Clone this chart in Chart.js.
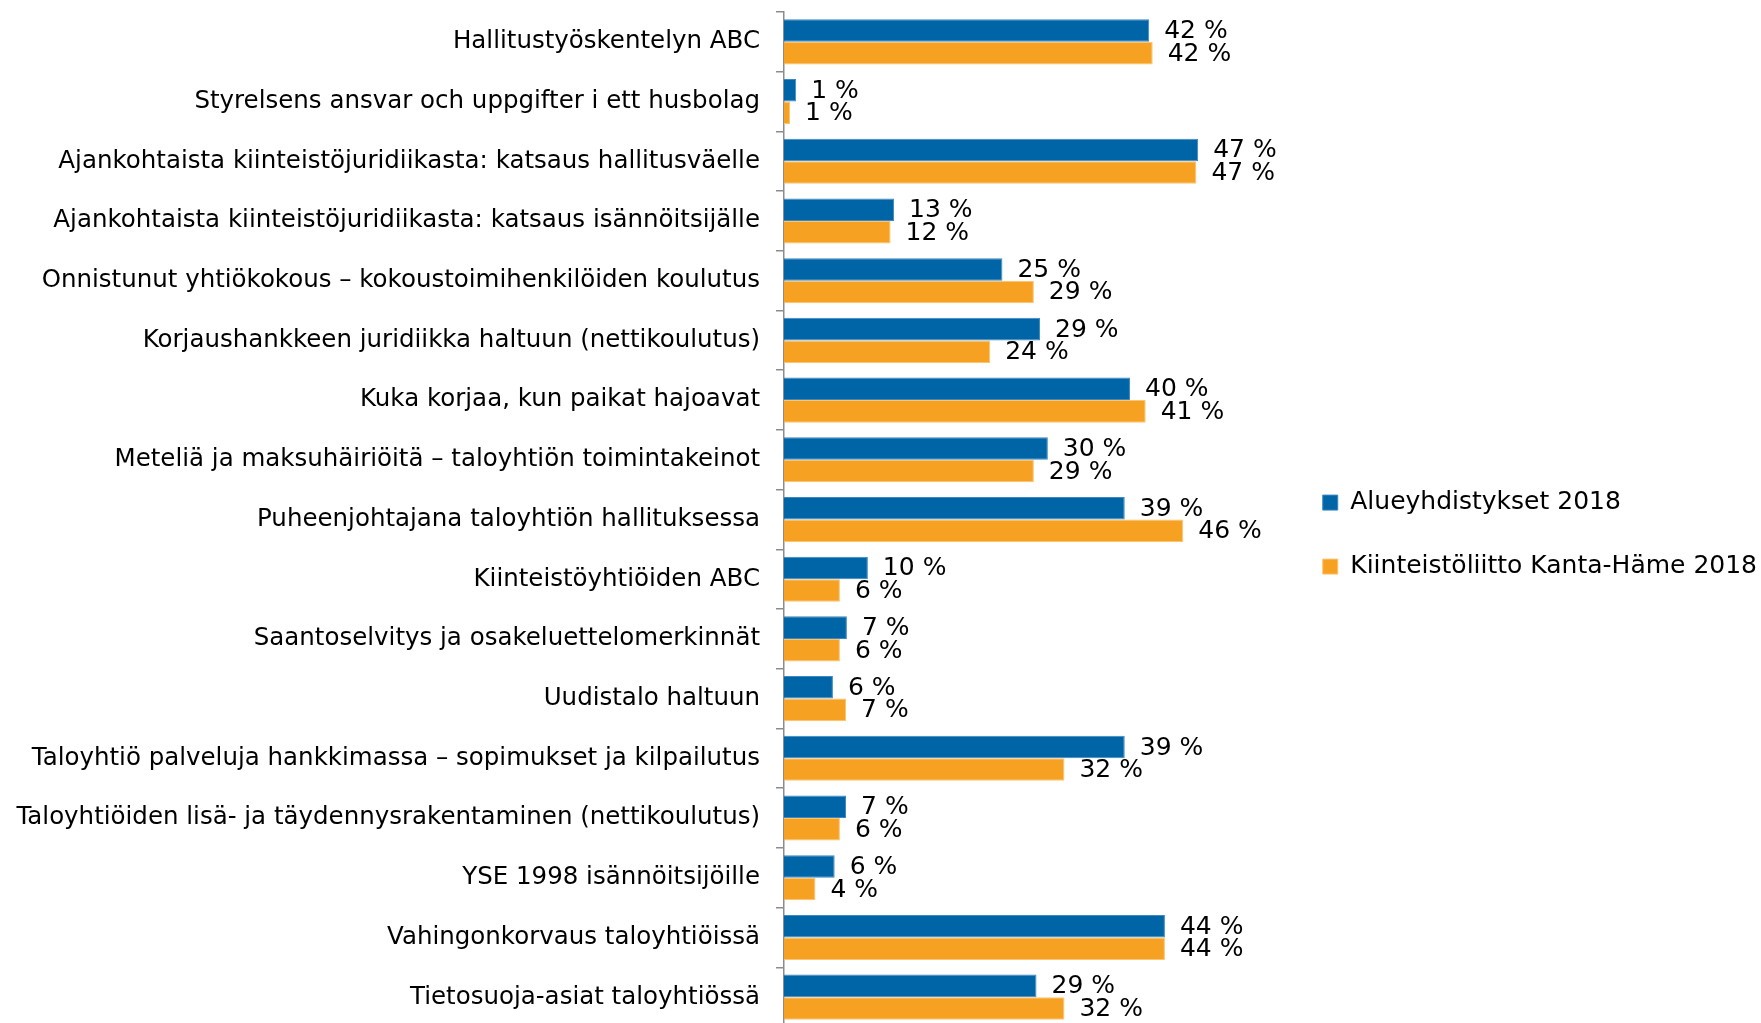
<!DOCTYPE html>
<html>
<head>
<meta charset="utf-8">
<script src="https://cdn.jsdelivr.net/npm/chart.js@4"></script>
<style>
  html, body { margin: 0; padding: 0; background: #fff; overflow: hidden; }
  /* a few px taller than the window: the original plot runs past the bottom edge */
  #wrap { width: 1761px; height: 1027px; position: relative; }
</style>
</head>
<body>
<div id="wrap"><canvas id="chart"></canvas></div>
<script>
// ---- data ----
const categories = [
  'Hallitustyöskentelyn ABC',
  'Styrelsens ansvar och uppgifter i ett husbolag',
  'Ajankohtaista kiinteistöjuridiikasta: katsaus hallitusväelle',
  'Ajankohtaista kiinteistöjuridiikasta: katsaus isännöitsijälle',
  'Onnistunut yhtiökokous – kokoustoimihenkilöiden koulutus',
  'Korjaushankkeen juridiikka haltuun (nettikoulutus)',
  'Kuka korjaa, kun paikat hajoavat',
  'Meteliä ja maksuhäiriöitä – taloyhtiön toimintakeinot',
  'Puheenjohtajana taloyhtiön hallituksessa',
  'Kiinteistöyhtiöiden ABC',
  'Saantoselvitys ja osakeluettelomerkinnät',
  'Uudistalo haltuun',
  'Taloyhtiö palveluja hankkimassa – sopimukset ja kilpailutus',
  'Taloyhtiöiden lisä- ja täydennysrakentaminen (nettikoulutus)',
  'YSE 1998 isännöitsijöille',
  'Vahingonkorvaus taloyhtiöissä',
  'Tietosuoja-asiat taloyhtiössä'
];

const seriesNames = ['Alueyhdistykset 2018', 'Kiinteistöliitto Kanta-Häme 2018'];

// percent (labels show rounded values)
const alueyhdistykset = [41.8, 1.4, 47.4, 12.6, 25.0, 29.3, 39.6, 30.2, 39.0, 9.6, 7.2, 5.6, 39.0, 7.1, 5.8, 43.6, 28.9];
const kantaHame      = [42.2, 0.7, 47.2, 12.2, 28.6, 23.6, 41.4, 28.6, 45.7, 6.4, 6.4, 7.1, 32.1, 6.4, 3.6, 43.6, 32.1];

const BLUE = '#0065a6';
const ORANGE = '#f7a123';
const AXIS = '#8c8c8c';
const FONT = 'DejaVu Sans';
const FS = 25;

// value labels at the end of each bar
const barLabels = {
  id: 'barLabels',
  afterDatasetsDraw(chart) {
    const ctx = chart.ctx;
    ctx.save();
    ctx.font = FS + 'px "' + FONT + '"';
    ctx.fillStyle = '#000';
    ctx.textAlign = 'left';
    ctx.textBaseline = 'middle';
    chart.data.datasets.forEach((ds, di) => {
      const meta = chart.getDatasetMeta(di);
      meta.data.forEach((bar, i) => {
        const v = ds.data[i];
        ctx.fillText(Math.round(v) + ' %', bar.x + 15, bar.y + 1);
      });
    });
    ctx.restore();
  }
};

new Chart(document.getElementById('chart'), {
  type: 'bar',
  data: {
    labels: categories,
    datasets: [
      {
        label: seriesNames[0],
        data: alueyhdistykset,
        backgroundColor: BLUE,
        borderColor: '#3d87c2',
        borderWidth: 1,
        barPercentage: 1.0,
        categoryPercentage: 0.755,
      },
      {
        label: seriesNames[1],
        data: kantaHame,
        backgroundColor: ORANGE,
        borderColor: '#fbc46f',
        borderWidth: 1,
        barPercentage: 1.0,
        categoryPercentage: 0.755,
      },
    ],
  },
  options: {
    indexAxis: 'y',
    responsive: true,
    maintainAspectRatio: false,
    animation: false,
    layout: { padding: { top: 12, bottom: 0, left: 0, right: -6 } },
    scales: {
      x: {
        display: false,
        min: 0,
        max: 57.2,
      },
      y: {
        // fixed axis position, no extra vertical padding for the big labels
        afterFit: s => {
          s.width = 784;
          s.paddingTop = 0;
          s.paddingBottom = 0;
        },
        ticks: {
          color: '#000',
          font: { family: FONT, size: 24.5 },
          padding: 16,
          autoSkip: false,
        },
        grid: {
          offset: true,
          drawOnChartArea: false,
          drawTicks: true,
          tickLength: 8,
          color: AXIS,
          lineWidth: 1.5,
        },
        border: { display: true, color: AXIS, width: 1.5 },
      },
    },
    plugins: {
      tooltip: { enabled: false },
      legend: {
        position: 'right',
        align: 'center',
        maxWidth: 520,
        title: { display: true, text: '', font: { size: 1 }, padding: { top: 29, bottom: 0 } },
        labels: {
          color: '#000',
          font: { family: FONT, size: FS },
          boxWidth: 15,
          boxHeight: 15,
          padding: 39,
        },
      },
    },
  },
  plugins: [barLabels],
});
</script>
</body>
</html>
